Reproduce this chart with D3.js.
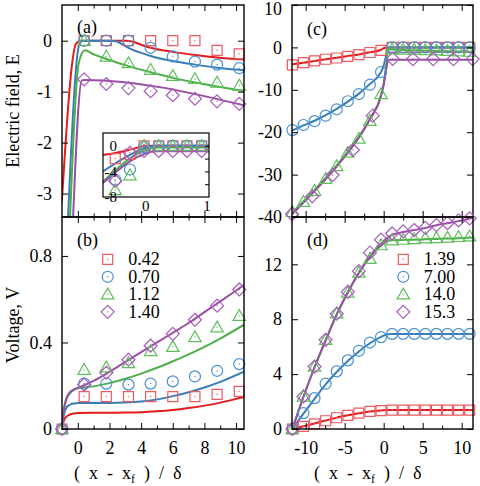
<!DOCTYPE html>
<html><head><meta charset="utf-8">
<script src="https://cdn.jsdelivr.net/npm/d3@7"></script>
<style>
body{margin:0;background:#fff}
svg{display:block}
text{font-family:'Liberation Serif',serif;fill:#000;white-space:pre}
</style>
</head><body>
<svg id="chart" width="480" height="486" font-family="Liberation Serif, serif"></svg>
<script>
// ---------------- DATA ----------------
// Panels (a),(b): x = (x - xf)/delta
const abMarkX = [0.4, 1.8, 3.2, 4.6, 6.0, 7.4, 8.8, 10.2];
const aRedPts    = [0, 0, 0, 0, 0, 0, -0.19, -0.26];
const aBluePts   = [0, 0, 0, -0.14, -0.31, -0.41, -0.47, -0.54];
const aGreenPts  = [0, -0.31, -0.44, -0.57, -0.69, -0.75, -0.82, -0.88];
const aPurplePts = [-0.76, -0.85, -0.93, -0.99, -1.07, -1.14, -1.19, -1.24];

const aRedLX = [-1.02, -0.1, 0.2, 1, 2, 3, 3.5, 4, 4.6, 6, 7.4, 8.8, 10.5];
const aRedLY = [-3.2, -0.05, 0, 0, 0, 0, -0.02, -0.08, -0.14, -0.22, -0.28, -0.33, -0.37];
const aBlueLX = [-0.65, 0.1, 0.3, 1, 2, 2.4, 2.8, 3.2, 4, 4.6, 6, 7.4, 8.8, 10.5];
const aBlueLY = [-3.7, -0.06, 0, 0, 0, -0.01, -0.07, -0.14, -0.24, -0.3, -0.4, -0.47, -0.53, -0.58];
const aGreenLX = [-0.52, 0.05, 0.44, 1, 1.8, 3.2, 4.6, 6, 7.4, 8.8, 10.5];
const aGreenLY = [-3.7, -0.45, -0.19, -0.27, -0.36, -0.5, -0.62, -0.73, -0.82, -0.9, -0.99];
const aPurpleLX = [-0.33, 0.25, 0.44, 10.5];
const aPurpleLY = [-3.7, -0.78, -0.77, -1.27];

// inset of (a)
const inMarkX = [-0.49, -0.25, -0.02, 0.22, 0.45, 0.68, 0.92];
const inRedPts    = [-2.0, -1.35, 0, 0, 0, 0, 0];
const inBluePts   = [-5.3, -3.7, -0.2, 0, 0, 0, 0];
const inGreenPts  = [-6.9, -4.6, 0, 0, 0, 0, 0];
const inPurplePts = [-5.5, -1.1, -0.8, -0.8, -0.8, -0.8, -0.8];
const inRedLX = [-0.69, -0.45, -0.25, -0.05, 0.05, 1.04];
const inRedLY = [-1.45, -1.05, -0.6, -0.1, 0, 0];
const inBlueLX = [-0.69, 0.08, 0.15, 1.04];
const inBlueLY = [-4.0, -0.15, 0, 0];
const inGreenLX = [-0.69, 0.2, 1.04];
const inGreenLY = [-5.6, -0.25, -0.25];
const inPurpleLX = [-0.69, 0.2, 1.04];
const inPurpleLY = [-5.8, -0.85, -0.85];

// panel (b)
const bMarkX = [-1, 0.4, 1.8, 3.2, 4.6, 6.0, 7.4, 8.8, 10.2];
const bRedPts    = [0, 0.15, 0.15, 0.15, 0.15, 0.15, 0.15, 0.16, 0.174];
const bBluePts   = [0, 0.21, 0.21, 0.205, 0.21, 0.22, 0.243, 0.269, 0.30];
const bGreenPts  = [0, 0.274, 0.285, 0.305, 0.36, 0.38, 0.425, 0.47, 0.523];
const bPurplePts = [0, 0.205, 0.26, 0.32, 0.385, 0.44, 0.505, 0.57, 0.645];
const bLineX = [-1, -0.9, -0.75, -0.5, -0.25, 0, 1, 2, 3, 4, 5, 6, 7, 8, 9, 10.5];
const bRedL    = [0, 0.035, 0.055, 0.067, 0.072, 0.074, 0.075, 0.075, 0.076, 0.078, 0.082, 0.088, 0.097, 0.108, 0.122, 0.148];
const bBlueL   = [0, 0.06, 0.095, 0.112, 0.118, 0.12, 0.12, 0.12, 0.122, 0.127, 0.137, 0.152, 0.17, 0.192, 0.218, 0.265];
const bGreenL  = [0, 0.08, 0.13, 0.165, 0.18, 0.188, 0.197, 0.212, 0.232, 0.256, 0.283, 0.313, 0.345, 0.38, 0.418, 0.482];
const bPurpleL = [0, 0.08, 0.135, 0.17, 0.183, 0.19, 0.222, 0.264, 0.31, 0.355, 0.4, 0.445, 0.49, 0.54, 0.59, 0.665];
const legendB = ["0.42", "0.70", "1.12", "1.40"];

// panels (c),(d)
const cdMarkX = [-11.7, -10.28, -8.86, -7.44, -6.02, -4.6, -3.18, -1.76, -0.34, 1.08, 2.5, 3.92, 5.34, 6.76, 8.18, 9.6, 11.02];
const cRedPts   = [-4.1, -3.6, -3.2, -2.8, -2.5, -2.1, -1.7, -1.2, -0.7, 0, 0, 0, 0, 0, 0, 0, 0];
const cBluePts  = [-19.5, -18.3, -17.4, -16.1, -14.6, -12.7, -11.0, -8.8, -5.8, 0, 0, 0, 0, 0, 0, 0, 0];
const cGreenPts = [-38.8, -36.4, -33.8, -31.0, -28.0, -24.8, -21.5, -17.3, -11.0, -0.4, -0.5, -0.5, -0.6, -0.7, -0.8, -0.9, -1.0];
const cPurpleX  = [-11.75, -9.15, -6.55, -3.95, -1.4, 1.15, 3.75, 6.35, 8.95, 11.4];
const cPurplePts = [-39.3, -35.1, -30.1, -24.2, -16.1, -2.7, -2.75, -2.75, -2.75, -2.75];
const cLineX = [-11.7, -10.28, -8.86, -7.44, -6.02, -4.6, -3.18, -1.76, -0.34, 0.0, 0.3, 0.6, 1.08, 11.4];
const cRedL    = [-4.0, -3.6, -3.2, -2.8, -2.45, -2.05, -1.65, -1.15, -0.55, -0.2, 0, 0, 0, 0];
const cBlueL   = [-19.6, -18.4, -17.3, -16.0, -14.5, -12.8, -10.9, -8.6, -5.8, -4.3, -2.0, 0, 0, 0];
const cGreenL  = [-39, -36.3, -33.6, -30.8, -27.8, -24.6, -21.0, -16.8, -11.2, -8.5, -4.5, -0.45, -0.5, -1.0];
const cPurpleL = [-39.3, -36.6, -33.9, -31.1, -28.1, -24.9, -21.3, -17.0, -11.5, -8.9, -5.5, -2.9, -2.9, -2.9];

const dRedPts    = [0, 0.19, 0.38, 0.6, 0.82, 0.99, 1.16, 1.28, 1.34, 1.38, 1.38, 1.38, 1.38, 1.38, 1.38, 1.38, 1.38];
const dBluePts   = [0, 1.16, 2.25, 3.3, 4.2, 5.0, 5.7, 6.3, 6.7, 6.93, 6.93, 6.93, 6.93, 6.93, 6.93, 6.93, 6.93];
const dGreenPts  = [0, 2.37, 4.55, 6.5, 8.43, 9.95, 11.4, 12.4, 13.4, 13.75, 13.8, 13.85, 13.9, 13.92, 13.95, 14.0, 14.05];
const dPurplePts = [0, 2.37, 4.55, 6.5, 8.4, 10.0, 11.5, 12.85, 13.8, 14.25, 14.4, 14.5, 14.66, 14.86, 15.0, 15.2, 15.35];
const dLineX = [-11.7, -10.28, -8.86, -7.44, -6.02, -4.6, -3.18, -1.76, -0.34, 0.5, 1.08, 2.5, 3.92, 5.34, 6.76, 8.18, 9.6, 11.4];
const dRedL    = [0, 0.2, 0.4, 0.62, 0.83, 1.0, 1.15, 1.27, 1.35, 1.38, 1.38, 1.38, 1.38, 1.38, 1.38, 1.38, 1.38, 1.38];
const dBlueL   = [0, 1.12, 2.2, 3.25, 4.15, 4.95, 5.65, 6.25, 6.72, 6.9, 6.93, 6.93, 6.93, 6.93, 6.93, 6.93, 6.93, 6.93];
const dGreenL  = [0, 2.35, 4.5, 6.45, 8.35, 9.95, 11.35, 12.5, 13.35, 13.7, 13.75, 13.78, 13.8, 13.82, 13.85, 13.88, 13.9, 13.95];
const dPurpleL = [0, 2.35, 4.5, 6.45, 8.35, 9.95, 11.4, 12.6, 13.5, 13.95, 14.15, 14.35, 14.5, 14.65, 14.85, 15.0, 15.15, 15.4];
const legendD = ["1.39", "7.00", "14.0", "15.3"];

// tick values
const abXMajor = [0, 2, 4, 6, 8, 10], abXMinor = [1, 3, 5, 7, 9];
const cdXMajor = [-10, -5, 0, 5, 10], cdXMinor = [-7.5, -2.5, 2.5, 7.5];
const aYTicks = [0, -1, -2, -3];
const bYTicks = [0, 0.4, 0.8];
const cYTicks = [10, 0, -10, -20, -30, -40];
const dYTicks = [0, 4, 8, 12];
const inYLabels = [0, -4, -8], inYTicks = [0, -2, -4, -6], inXLabels = [0, 1];

// ---------------- STYLE ----------------
const STY = [
  {line: "#e41a1c", mk: "#ef5a62", shape: "square"},
  {line: "#377eb8", mk: "#4a8fd4", shape: "circle"},
  {line: "#4daf4a", mk: "#5fbf5b", shape: "triangle"},
  {line: "#984ea3", mk: "#a65cba", shape: "diamond"}
];
const FONT = 18;
const FAM = "Liberation Serif, serif";

const svg = d3.select("#chart");

function shapePath(shape) {
  switch (shape) {
    case "square": return "M-5,-5h10v10h-10Z";
    case "circle": { const p = d3.path(); p.arc(0, 0, 5.5, 0, 2 * Math.PI); p.closePath(); return p.toString(); }
    case "triangle": return "M0,-6.2L6.2,4.6L-6.2,4.6Z";
    case "diamond": return "M0,-6.5L6.5,0L0,6.5L-6.5,0Z";
  }
}

function drawMarkers(g, x, y, xs, ys, sty) {
  const data = xs.map((v, i) => [v, ys[i]]);
  const grp = g.append("g");
  const m = grp.selectAll("g").data(data).join("g")
    .attr("transform", d => `translate(${x(d[0])},${y(d[1])})`);
  m.append("path").attr("d", shapePath(sty.shape))
    .attr("fill", "none").attr("stroke", sty.mk).attr("stroke-width", 1.2);
  m.append("rect").attr("x", -0.6).attr("y", -0.6).attr("width", 1.2).attr("height", 1.2)
    .attr("fill", sty.mk);
}

function drawLine(g, x, y, xs, ys, sty) {
  const data = xs.map((v, i) => [v, ys[i]]);
  g.append("path").datum(data)
    .attr("d", d3.line().x(d => x(d[0])).y(d => y(d[1])).curve(d3.curveMonotoneX))
    .attr("fill", "none").attr("stroke", sty.line).attr("stroke-width", 2)
    .attr("stroke-linejoin", "round");
}

let clipId = 0;
function clipGroup(box) {
  const id = "clip" + (clipId++);
  svg.append("clipPath").attr("id", id).append("rect")
    .attr("x", box.x0).attr("y", box.y0).attr("width", box.x1 - box.x0).attr("height", box.y1 - box.y0);
  return svg.append("g").attr("clip-path", `url(#${id})`);
}

function styleAxis(g) {
  g.select(".domain").remove();
  g.attr("font-family", FAM).attr("font-size", FONT);
  g.selectAll("text").attr("font-family", FAM);
  g.selectAll("line").attr("stroke", "#000").attr("stroke-width", 1);
}

function frameAxes(box, x, y, o) {
  const g = svg.append("g");
  const fmt = d => String(d);
  g.append("g").attr("transform", `translate(${box.x0},0)`)
    .call(d3.axisLeft(y).tickValues(o.yTicks).tickSize(-6).tickPadding(10).tickFormat(fmt)).call(styleAxis);
  g.append("g").attr("transform", `translate(${box.x1},0)`)
    .call(d3.axisRight(y).tickValues(o.yTicks).tickSize(-6).tickFormat("")).call(styleAxis);
  g.append("g").attr("transform", `translate(0,${box.y1})`)
    .call(d3.axisBottom(x).tickValues(o.xMajor).tickSize(-6).tickPadding(12).tickFormat(o.xLabels ? fmt : "")).call(styleAxis);
  g.append("g").attr("transform", `translate(0,${box.y1})`)
    .call(d3.axisBottom(x).tickValues(o.xMinor).tickSize(-3.5).tickFormat("")).call(styleAxis);
  g.append("g").attr("transform", `translate(0,${box.y0})`)
    .call(d3.axisTop(x).tickValues(o.xMajor).tickSize(-6).tickFormat("")).call(styleAxis);
  g.append("g").attr("transform", `translate(0,${box.y0})`)
    .call(d3.axisTop(x).tickValues(o.xMinor).tickSize(-3.5).tickFormat("")).call(styleAxis);
  g.append("rect").attr("x", box.x0).attr("y", box.y0)
    .attr("width", box.x1 - box.x0).attr("height", box.y1 - box.y0)
    .attr("fill", "none").attr("stroke", "#000").attr("stroke-width", 1.4);
  return g;
}

function addText(x, y, t, size) {
  return svg.append("text").attr("x", x).attr("y", y).attr("font-family", FAM)
    .attr("font-size", size || FONT).text(t);
}

function panel(box, x, y, lines, marks, axOpts, label) {
  const cg = clipGroup(box);
  lines.forEach((l, i) => drawLine(cg, x, y, l[0], l[1], STY[i]));
  const mg = svg.append("g");
  marks.forEach((m, i) => drawMarkers(mg, x, y, m[0], m[1], STY[i]));
  const g = frameAxes(box, x, y, axOpts);
  addText(box.x0 + 15, box.y0 + label.dy, label.t);
  return g;
}

function legend(x0, y0, labels) {
  const dy = 17.5;
  labels.forEach((t, i) => {
    const gy = y0 + i * dy;
    const g = svg.append("g").attr("transform", `translate(${x0},${gy})`);
    g.append("path").attr("d", shapePath(STY[i].shape)).attr("fill", "none")
      .attr("stroke", STY[i].mk).attr("stroke-width", 1.2);
    g.append("rect").attr("x", -0.6).attr("y", -0.6).attr("width", 1.2).attr("height", 1.2).attr("fill", STY[i].mk);
    addText(x0 + 20.5, gy + 6, t);
  });
}

// ---------------- LAYOUT ----------------
const boxA = {x0: 62, x1: 244, y0: 5, y1: 217};
const boxB = {x0: 62, x1: 244, y0: 217, y1: 429};
const boxC = {x0: 292, x1: 473, y0: 5, y1: 217};
const boxD = {x0: 292, x1: 473, y0: 217, y1: 429};
const boxI = {x0: 103, x1: 209, y0: 133, y1: 197};

const xAB = d3.scaleLinear().domain([-1, 10.5]).range([boxA.x0, boxA.x1]);
const yA = d3.scaleLinear().domain([-3.46, 0.7]).range([boxA.y1, boxA.y0]);
const yB = d3.scaleLinear().domain([0, 0.98]).range([boxB.y1, boxB.y0]);
const xCD = d3.scaleLinear().domain([-11.75, 11.45]).range([boxC.x0, boxC.x1]);
const yC = d3.scaleLinear().domain([-40, 10]).range([boxC.y1, boxC.y0]);
const yD = d3.scaleLinear().domain([0, 15.45]).range([boxD.y1, boxD.y0]);
const xI = d3.scaleLinear().domain([-0.69, 1.04]).range([boxI.x0, boxI.x1]);
const yI = d3.scaleLinear().domain([-8, 2]).range([boxI.y1, boxI.y0]);

// (a)
panel(boxA, xAB, yA,
  [[aRedLX, aRedLY], [aBlueLX, aBlueLY], [aGreenLX, aGreenLY], [aPurpleLX, aPurpleLY]],
  [[abMarkX, aRedPts], [abMarkX, aBluePts], [abMarkX, aGreenPts], [abMarkX, aPurplePts]],
  {yTicks: aYTicks, xMajor: abXMajor, xMinor: abXMinor, xLabels: false},
  {t: "(a)", dy: 28});

// inset
svg.append("rect").attr("x", boxI.x0).attr("y", boxI.y0).attr("width", boxI.x1 - boxI.x0)
  .attr("height", boxI.y1 - boxI.y0).attr("fill", "#fff");
{
  const cg = clipGroup(boxI);
  [[inRedLX, inRedLY], [inBlueLX, inBlueLY], [inGreenLX, inGreenLY], [inPurpleLX, inPurpleLY]]
    .forEach((l, i) => drawLine(cg, xI, yI, l[0], l[1], STY[i]));
  const mg = svg.append("g");
  [inRedPts, inBluePts, inGreenPts, inPurplePts].forEach((p, i) => drawMarkers(mg, xI, yI, inMarkX, p, STY[i]));
  const g = svg.append("g");
  g.append("g").attr("transform", `translate(${boxI.x0},0)`)
    .call(d3.axisLeft(yI).tickValues(inYLabels).tickSize(0).tickPadding(-14).tickFormat(d => String(d)))
    .call(styleAxis).attr("font-size", 15);
  g.append("g").attr("transform", `translate(${boxI.x1},0)`)
    .call(d3.axisRight(yI).tickValues(inYTicks).tickSize(-4).tickFormat("")).call(styleAxis);
  g.append("g").attr("transform", `translate(0,${boxI.y1})`)
    .call(d3.axisBottom(xI).tickValues(inXLabels).tickSize(0).tickPadding(3).tickFormat(d => String(d)))
    .call(styleAxis).attr("font-size", 15);
  g.append("rect").attr("x", boxI.x0).attr("y", boxI.y0).attr("width", boxI.x1 - boxI.x0)
    .attr("height", boxI.y1 - boxI.y0).attr("fill", "none").attr("stroke", "#000").attr("stroke-width", 1.2);
}

// (b)
panel(boxB, xAB, yB,
  [[bLineX, bRedL], [bLineX, bBlueL], [bLineX, bGreenL], [bLineX, bPurpleL]],
  [[bMarkX, bRedPts], [bMarkX, bBluePts], [bMarkX, bGreenPts], [bMarkX, bPurplePts]],
  {yTicks: bYTicks, xMajor: abXMajor, xMinor: abXMinor, xLabels: true},
  {t: "(b)", dy: 29});
legend(107.7, 259.3, legendB);

// (c)
const gC = panel(boxC, xCD, yC,
  [[cLineX, cRedL], [cLineX, cBlueL], [cLineX, cGreenL], [cLineX, cPurpleL]],
  [[cdMarkX, cRedPts], [cdMarkX, cBluePts], [cdMarkX, cGreenPts], [cPurpleX, cPurplePts]],
  {yTicks: cYTicks, xMajor: cdXMajor, xMinor: cdXMinor, xLabels: false},
  {t: "(c)", dy: 30});
// keep the top label "10" inside the picture
gC.selectAll(".tick text").filter(d => d === 10).attr("dy", "0.5em");

// (d)
panel(boxD, xCD, yD,
  [[dLineX, dRedL], [dLineX, dBlueL], [dLineX, dGreenL], [dLineX, dPurpleL]],
  [[cdMarkX, dRedPts], [cdMarkX, dBluePts], [cdMarkX, dGreenPts], [cdMarkX, dPurplePts]],
  {yTicks: dYTicks, xMajor: cdXMajor, xMinor: cdXMinor, xLabels: true},
  {t: "(d)", dy: 29});
legend(403.3, 259.3, legendD);

// axis titles
svg.append("text").attr("transform", "translate(19,111) rotate(-90)").attr("font-family", FAM)
  .attr("text-anchor", "middle").attr("font-size", FONT).text("Electric field, E");
svg.append("text").attr("transform", "translate(19,325) rotate(-90)").attr("font-family", FAM)
  .attr("text-anchor", "middle").attr("font-size", FONT).text("Voltage, V");

function xTitle(x0) {
  const t = svg.append("text").attr("x", x0).attr("y", 479).attr("font-family", FAM)
    .attr("font-size", FONT).attr("xml:space", "preserve");
  t.append("tspan").text("(  x  -  x");
  t.append("tspan").attr("font-size", 12).attr("dy", 4).text("f");
  t.append("tspan").attr("dy", -4).text("  )  /  δ");
}
xTitle(74);
xTitle(314);
</script>
</body></html>
